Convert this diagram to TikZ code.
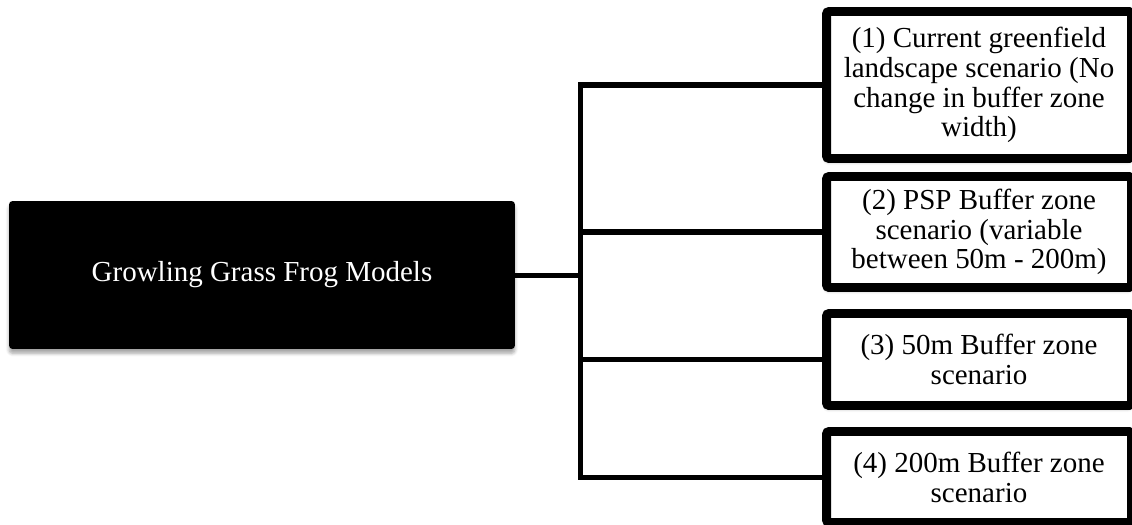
\documentclass[tikz,border=0pt]{standalone}
\usepackage{fontspec}
\setmainfont{Liberation Serif}
\usepackage{tikz}
\usetikzlibrary{positioning,shadows.blur}

\begin{document}
\begin{tikzpicture}[x=0.02cm,y=-0.02cm,
  font=\fontsize{16.5}{17}\selectfont,
  rootbox/.style={fill=black,text=white,rounded corners=2pt,minimum width=10.12cm,minimum height=2.96cm,
    blur shadow={shadow xshift=0pt,shadow yshift=-2.5pt,shadow blur steps=6,shadow opacity=35}},
  scenbox/.style={draw=black,line width=5.1pt,fill=white,align=center,rounded corners=1.5pt,
    minimum width=6.1cm,inner sep=0pt,
    blur shadow={shadow xshift=-0.5pt,shadow yshift=-2pt,shadow blur steps=5,shadow opacity=30}},
  link/.style={line width=2.85pt,line cap=rect}]
  \useasboundingbox (0,0) rectangle (1132,524);
  % root and the four scenarios
  \node[rootbox] (models) at (262,275) {Growling Grass Frog Models};
  \node[scenbox,minimum height=2.94cm] (s1) at (979,85) {(1) Current greenfield\\landscape scenario (No\\change in buffer zone\\width)};
  \node[scenbox,minimum height=2.22cm] (s2) at (979,232) {(2) PSP Buffer zone\\scenario (variable\\between 50m - 200m)};
  \node[scenbox,minimum height=1.84cm] (s3) at (979,359.5) {(3) 50m Buffer zone\\scenario};
  \node[scenbox,minimum height=1.82cm] (s4) at (979,477) {(4) 200m Buffer zone\\scenario};
  % connectors
  \coordinate (fork) at (580,275);
  \draw[link] (models.east) -- (fork);
  \draw[link] (s1.west -| fork) -- (s4.west -| fork);
  \foreach \s in {s1,s2,s3,s4}
    \draw[link] (\s.west -| fork) -- (\s.west);
\end{tikzpicture}
\end{document}
